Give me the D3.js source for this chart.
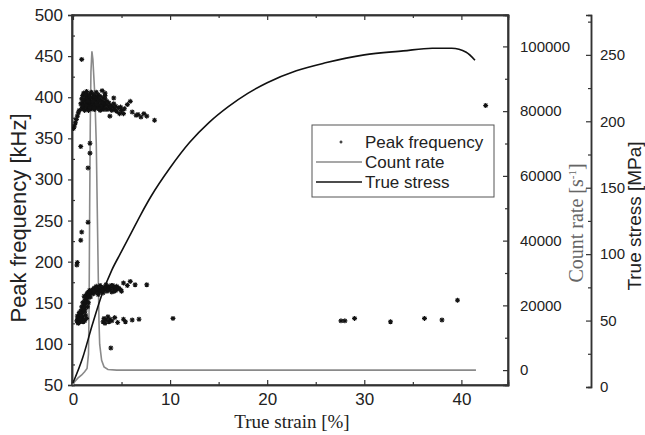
<!DOCTYPE html>
<meta charset="utf-8">
<style>
  body { margin: 0; background: #fff; }
  .tick text { font-family: 'Liberation Sans', Arial, sans-serif; fill: #222; }
  .frame { fill: none; stroke: #333; stroke-width: 1.5; }
</style>
<svg width="645" height="435"></svg>
<script src="https://d3js.org/d3.v7.min.js"></script>
<script>

// peak frequency scatter [strain %, kHz]
var streakPts = [[0.05,362],[0.15,365],[0.25,369],[0.35,373],[0.45,377],[0.55,381],[0.65,384]];
var upperPts = [[0.8,392],[0.9,398],[0.9,386],[1.0,402],[1.0,393],[1.1,388],[1.1,405],[1.2,396],[1.2,384],
  [1.3,400],[1.3,391],[1.4,407],[1.4,395],[1.4,386],[1.5,402],[1.5,389],[1.6,398],[1.6,393],[1.6,384],
  [1.7,404],[1.7,396],[1.8,390],[1.8,400],[1.9,386],[1.9,406],[1.9,394],[2.0,399],[2.0,388],[2.1,403],
  [2.1,392],[2.2,397],[2.2,385],[2.3,401],[2.3,390],[2.4,395],[2.4,406],[2.5,387],[2.5,399],[2.6,393],
  [2.6,403],[2.7,389],[2.7,397],[2.8,384],[2.8,401],[2.9,392],[2.9,396],[3.0,388],[3.0,408],[3.1,399],
  [3.1,385],[3.2,394],[3.2,390],[3.3,398],[3.3,386],[3.4,391],[3.5,395],[3.5,385],[3.6,389],[3.7,393],
  [3.8,386],[3.9,390],[4.0,384],[4.1,388],[4.2,392],[4.3,385],[4.4,389],[4.5,383],[4.7,387],[1.05,397],
  [1.35,390],[1.75,387],[2.05,395],[2.45,391],[2.85,388],[1.25,403],[0.95,389],[1.55,395],[2.15,387],
  [2.65,386],[3.05,393],[3.3,405],[3.3,402]];
var tailPts = [[4.9,388],[5.0,384],[5.2,380],[5.3,386],[5.6,391],[5.9,395],[6.1,382],[6.5,378],[6.7,379],
  [7.0,376],[7.3,380],[7.6,377],[8.4,372],[4.8,380],[3.8,377],[4.2,399]];
var outlierPts = [[0.9,446],[0.8,340],[1.75,344],[1.75,332],[1.55,314],[0.4,196],[0.45,199],[0.8,226],
  [0.9,236],[1.55,248]];
var diagPts = [[0.4,128],[0.5,131],[0.5,126],[0.6,133],[0.6,129],[0.7,127],[0.7,136],[0.8,131],[0.8,140],
  [0.9,128],[0.9,137],[0.9,145],[1.0,133],[1.0,142],[1.0,150],[1.1,130],[1.1,147],[1.1,139],[1.2,153],
  [1.2,144],[1.2,128],[1.3,157],[1.3,149],[1.3,135],[1.4,160],[1.4,152],[1.4,131],[1.5,156],[1.5,162],
  [1.5,145],[1.6,158],[1.6,163],[1.6,150],[1.7,160],[1.7,165],[1.8,157],[1.8,162],[1.9,164],[0.45,134],
  [0.65,138],[0.85,134],[1.05,127],[1.25,140],[0.75,130],[1.15,158],[0.55,125]];
var plateauPts = [[2.0,166],[2.1,161],[2.2,168],[2.3,163],[2.4,170],[2.5,165],[2.6,160],[2.7,167],[2.8,171],
  [2.9,164],[3.0,168],[3.1,162],[3.2,169],[3.3,166],[3.4,172],[3.5,164],[3.6,168],[3.7,170],[3.8,166],
  [3.9,169],[4.0,163],[4.1,171],[4.2,167],[4.3,169],[4.4,165],[4.5,170],[4.6,167],[4.7,168],[4.9,166],
  [2.15,164],[2.45,167],[2.75,163],[3.05,165],[3.35,168],[3.65,166],[3.95,171],[4.25,164],[5.2,174],
  [5.6,171],[5.9,176],[6.4,172],[7.6,172],[5.0,164]];
var lowPts = [[3.1,127],[3.2,131],[3.3,125],[3.4,129],[3.6,133],[3.7,127],[3.8,130],[4.0,128],[4.3,132],
  [4.6,126],[5.2,130],[5.4,127],[6.1,129],[6.8,130],[10.3,131],[3.9,95]];
var farPts = [[27.6,128],[28.0,128],[29.0,131],[32.7,127],[36.2,131],[38.0,129],[39.6,153],[42.5,390]];

// count rate [strain %, 1/s]
var countStrain = [0, 0.2, 0.5, 0.9, 1.2, 1.45, 1.6, 1.66, 1.72, 1.78, 1.85, 1.95, 2.05, 2.25, 2.4, 2.5,
  2.6, 2.68, 2.75, 2.95, 3.2, 3.6, 4.5, 41.5];
var countRate = [-4500, -3500, -2500, -1500, -500, 500, 5000, 20000, 50000, 75000, 92000, 98500, 96000,
  85000, 70000, 50000, 30000, 15000, 8000, 3000, 1000, 200, 0, 0];

// true stress [strain %, MPa]
var stressStrain = [0, 1, 2, 3, 4, 5, 6, 7, 8, 10, 12, 14, 16, 18, 20, 23, 26, 30, 34, 37, 39, 40.5, 41.4];
var stress = [3, 22, 47, 70, 88, 102, 116, 130, 143, 165, 184, 199, 211, 221, 229, 238, 244, 250, 253,
  255, 255, 252, 246];

var xTicks = [0, 10, 20, 30, 40];
var freqTicks = [50, 100, 150, 200, 250, 300, 350, 400, 450, 500];
var countTicks = [0, 20000, 40000, 60000, 80000, 100000];
var stressTicks = [0, 50, 100, 150, 200, 250];

var svg = d3.select("svg");
var pL = 72, pR = 508, pT = 15, pB = 385;

var x = d3.scaleLinear().domain([-0.1, 44.8]).range([pL, pR]);
var yF = d3.scaleLinear().domain([50, 500]).range([pB, pT]);
var yC = d3.scaleLinear().domain([-4600, 109700]).range([pB, pT]);
var yS = d3.scaleLinear().domain([0, 280]).range([387, pT]);

// frame
svg.append("rect").attr("class", "frame")
    .attr("x", pL).attr("y", pT).attr("width", pR - pL).attr("height", pB - pT);

// bottom axis
var gx = svg.append("g").attr("transform", "translate(0," + pB + ")")
    .call(d3.axisBottom(x).tickValues(xTicks).tickSize(-5).tickPadding(8).tickFormat(d3.format("d")));
svg.append("g").attr("transform", "translate(0," + pB + ")")
    .call(d3.axisBottom(x).tickValues([5, 15, 25, 35]).tickSize(-3).tickFormat(""));
svg.append("g").attr("transform", "translate(0," + pT + ")")
    .call(d3.axisTop(x).tickValues(xTicks).tickSize(-5).tickFormat(""));
svg.append("g").attr("transform", "translate(0," + pT + ")")
    .call(d3.axisTop(x).tickValues([5, 15, 25, 35]).tickSize(-3).tickFormat(""));

// left axis
var gy = svg.append("g").attr("transform", "translate(" + pL + ",0)")
    .call(d3.axisLeft(yF).tickValues(freqTicks).tickSize(4).tickPadding(5));
svg.append("g").attr("transform", "translate(" + pL + ",0)")
    .call(d3.axisLeft(yF).tickValues(d3.range(75, 500, 50)).tickSize(-3).tickFormat(""));

// count rate axis (right frame)
var gc = svg.append("g").attr("transform", "translate(" + pR + ",0)")
    .call(d3.axisRight(yC).tickValues(countTicks).tickSize(-5).tickPadding(12).tickFormat(d3.format("d")));
svg.append("g").attr("transform", "translate(" + pR + ",0)")
    .call(d3.axisRight(yC).tickValues(d3.range(10000, 110000, 20000)).tickSize(-3).tickFormat(""));

// stress axis
var gs = svg.append("g").attr("transform", "translate(591,0)")
    .call(d3.axisRight(yS).tickValues(stressTicks).tickSize(-5).tickPadding(9));
svg.append("g").attr("transform", "translate(591,0)")
    .call(d3.axisRight(yS).tickValues(d3.range(25, 280, 50)).tickSize(-3).tickFormat(""));

svg.selectAll(".domain").attr("stroke", "#333").attr("stroke-width", 1.5);
svg.selectAll(".tick line").attr("stroke", "#333").attr("stroke-width", 1.2);
svg.selectAll(".tick text").style("font-size", "17px");
gc.selectAll(".tick text").style("font-size", "15px");
gs.selectAll(".tick text").style("font-size", "15px");
gx.selectAll(".tick text").style("font-size", "17px");

// axis titles
svg.append("text").attr("transform", "translate(26,218) rotate(-90)")
    .attr("text-anchor", "middle").style("font", "22px 'Liberation Sans', Arial, sans-serif")
    .attr("fill", "#222").text("Peak frequency [kHz]");
svg.append("text").attr("x", 292).attr("y", 428).attr("text-anchor", "middle")
    .style("font", "19px 'Liberation Serif', 'Times New Roman', serif").attr("fill", "#222")
    .text("True strain [%]");
var ct = svg.append("text").attr("transform", "translate(583,223) rotate(-90)")
    .attr("text-anchor", "middle").style("font", "20px 'Liberation Serif', 'Times New Roman', serif")
    .attr("fill", "#666");
ct.append("tspan").text("Count rate [s");
ct.append("tspan").attr("dy", -7).style("font-size", "11px").text("-1");
ct.append("tspan").attr("dy", 7).text("]");
svg.append("text").attr("transform", "translate(641,216) rotate(-90)")
    .attr("text-anchor", "middle").style("font", "19px 'Liberation Sans', Arial, sans-serif")
    .attr("fill", "#222").text("True stress [MPa]");

// clip
svg.append("clipPath").attr("id", "clip").append("rect")
    .attr("x", pL).attr("y", pT).attr("width", pR - pL).attr("height", pB - pT);
var plot = svg.append("g").attr("clip-path", "url(#clip)");

// count rate line
var countData = countStrain.map(function(s, i) { return [s, countRate[i]]; });
plot.append("path").datum(countData)
    .attr("fill", "none").attr("stroke", "#8a8a8a").attr("stroke-width", 1.6)
    .attr("d", d3.line().x(function(d) { return x(d[0]); }).y(function(d) { return yC(d[1]); }));

// stress line
var stressData = stressStrain.map(function(s, i) { return [s, stress[i]]; });
plot.append("path").datum(stressData)
    .attr("fill", "none").attr("stroke", "#111").attr("stroke-width", 1.6)
    .attr("d", d3.line().curve(d3.curveMonotoneX)
        .x(function(d) { return x(d[0]); }).y(function(d) { return yS(d[1]); }));

// scatter
var allPts = [].concat(streakPts, upperPts, tailPts, outlierPts, diagPts, plateauPts, lowPts, farPts);
plot.selectAll(".pt").data(allPts).enter().append("path")
    .attr("class", "pt")
    .attr("transform", function(d) { return "translate(" + x(d[0]) + "," + yF(d[1]) + ")"; })
    .attr("d", "M-2.5,0H2.5M0,-2.5V2.5M-1.8,-1.8L1.8,1.8M-1.8,1.8L1.8,-1.8")
    .attr("stroke", "#111").attr("stroke-width", 1.1);

// legend
var lg = svg.append("g");
lg.append("rect").attr("x", 312).attr("y", 125).attr("width", 182).attr("height", 72)
    .attr("fill", "#fff").attr("stroke", "#555").attr("stroke-width", 1);
lg.append("path").attr("transform", "translate(341,142)")
    .attr("d", "M-1.5,0H1.5M0,-1.5V1.5").attr("stroke", "#111").attr("stroke-width", 1.1);
lg.append("line").attr("x1", 316).attr("x2", 362).attr("y1", 162).attr("y2", 162)
    .attr("stroke", "#8a8a8a").attr("stroke-width", 1.6);
lg.append("line").attr("x1", 316).attr("x2", 362).attr("y1", 182).attr("y2", 182)
    .attr("stroke", "#111").attr("stroke-width", 1.6);
var legendNames = ["Peak frequency", "Count rate", "True stress"];
lg.selectAll(".lt").data(legendNames).enter().append("text")
    .attr("x", 365).attr("y", function(d, i) { return 148 + i * 20; })
    .style("font", "17px 'Liberation Sans', Arial, sans-serif").attr("fill", "#222")
    .text(function(d) { return d; });

</script>
